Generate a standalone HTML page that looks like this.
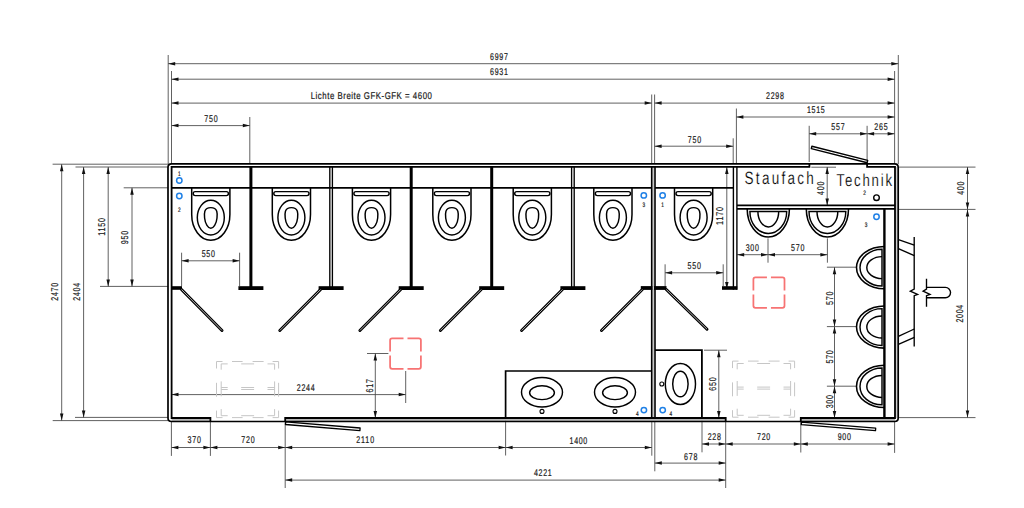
<!DOCTYPE html>
<html><head><meta charset="utf-8"><style>
html,body{margin:0;padding:0;background:#fff;width:1024px;height:508px;overflow:hidden}
svg{display:block}
text{font-family:"Liberation Sans",sans-serif;text-rendering:geometricPrecision;stroke:#1c1c1c;stroke-width:0.22px}
</style></head><body>
<svg width="1024" height="508" viewBox="0 0 1024 508">
<rect width="1024" height="508" fill="#fff"/>
<line x1="168.2" y1="55" x2="168.2" y2="164" stroke="#444" stroke-width="0.85" />
<line x1="171.5" y1="71" x2="171.5" y2="164" stroke="#444" stroke-width="0.85" />
<line x1="249.8" y1="117" x2="249.8" y2="164" stroke="#444" stroke-width="0.85" />
<line x1="651.7" y1="94.5" x2="651.7" y2="164" stroke="#444" stroke-width="0.85" />
<line x1="654.6" y1="94.5" x2="654.6" y2="164" stroke="#444" stroke-width="0.85" />
<line x1="733.2" y1="138.3" x2="733.2" y2="164" stroke="#444" stroke-width="0.85" />
<line x1="736.4" y1="108.5" x2="736.4" y2="164" stroke="#444" stroke-width="0.85" />
<line x1="809.2" y1="125.8" x2="809.2" y2="162" stroke="#444" stroke-width="0.85" />
<line x1="867.1" y1="125.8" x2="867.1" y2="160" stroke="#444" stroke-width="0.85" />
<line x1="894.6" y1="71" x2="894.6" y2="164" stroke="#444" stroke-width="0.85" />
<line x1="898.3" y1="55" x2="898.3" y2="164" stroke="#444" stroke-width="0.85" />
<line x1="168.2" y1="63.7" x2="898.3" y2="63.7" stroke="#444" stroke-width="0.85" />
<path d="M168.20,63.70 L175.20,61.95 L175.20,65.45 Z" fill="#111"/>
<path d="M898.30,63.70 L891.30,65.45 L891.30,61.95 Z" fill="#111"/>
<text transform="translate(499,59.90) scale(0.72,1)" x="0" y="0" font-size="9.8" text-anchor="middle" fill="#1c1c1c" textLength="24.72" lengthAdjust="spacing">6997</text>
<line x1="171.5" y1="79.2" x2="894.6" y2="79.2" stroke="#444" stroke-width="0.85" />
<path d="M171.50,79.20 L178.50,77.45 L178.50,80.95 Z" fill="#111"/>
<path d="M894.60,79.20 L887.60,80.95 L887.60,77.45 Z" fill="#111"/>
<text transform="translate(499,75.30) scale(0.72,1)" x="0" y="0" font-size="9.8" text-anchor="middle" fill="#1c1c1c" textLength="24.72" lengthAdjust="spacing">6931</text>
<line x1="171.5" y1="103.1" x2="651.7" y2="103.1" stroke="#444" stroke-width="0.85" />
<path d="M171.50,103.10 L178.50,101.35 L178.50,104.85 Z" fill="#111"/>
<path d="M651.70,103.10 L644.70,104.85 L644.70,101.35 Z" fill="#111"/>
<text transform="translate(371.3,99.20) scale(0.8,1)" x="0" y="0" font-size="9.8" text-anchor="middle" fill="#1c1c1c" textLength="151.50" lengthAdjust="spacing">Lichte Breite GFK-GFK = 4600</text>
<line x1="654.6" y1="103.1" x2="894.6" y2="103.1" stroke="#444" stroke-width="0.85" />
<path d="M654.60,103.10 L661.60,101.35 L661.60,104.85 Z" fill="#111"/>
<path d="M894.60,103.10 L887.60,104.85 L887.60,101.35 Z" fill="#111"/>
<text transform="translate(775,99.30) scale(0.72,1)" x="0" y="0" font-size="9.8" text-anchor="middle" fill="#1c1c1c" textLength="24.72" lengthAdjust="spacing">2298</text>
<line x1="171.5" y1="125.6" x2="249.8" y2="125.6" stroke="#444" stroke-width="0.85" />
<path d="M171.50,125.60 L178.50,123.85 L178.50,127.35 Z" fill="#111"/>
<path d="M249.80,125.60 L242.80,127.35 L242.80,123.85 Z" fill="#111"/>
<text transform="translate(210.9,121.90) scale(0.72,1)" x="0" y="0" font-size="9.8" text-anchor="middle" fill="#1c1c1c" textLength="18.54" lengthAdjust="spacing">750</text>
<line x1="736.4" y1="117.0" x2="894.6" y2="117.0" stroke="#444" stroke-width="0.85" />
<path d="M736.40,117.00 L743.40,115.25 L743.40,118.75 Z" fill="#111"/>
<path d="M894.60,117.00 L887.60,118.75 L887.60,115.25 Z" fill="#111"/>
<text transform="translate(815.8,113.30) scale(0.72,1)" x="0" y="0" font-size="9.8" text-anchor="middle" fill="#1c1c1c" textLength="24.72" lengthAdjust="spacing">1515</text>
<line x1="809.2" y1="133.8" x2="867.1" y2="133.8" stroke="#444" stroke-width="0.85" />
<path d="M809.20,133.80 L816.20,132.05 L816.20,135.55 Z" fill="#111"/>
<path d="M867.10,133.80 L860.10,135.55 L860.10,132.05 Z" fill="#111"/>
<text transform="translate(837.9,130.40) scale(0.72,1)" x="0" y="0" font-size="9.8" text-anchor="middle" fill="#1c1c1c" textLength="18.54" lengthAdjust="spacing">557</text>
<line x1="867.1" y1="133.8" x2="894.6" y2="133.8" stroke="#444" stroke-width="0.85" />
<path d="M867.10,133.80 L874.10,132.05 L874.10,135.55 Z" fill="#111"/>
<path d="M894.60,133.80 L887.60,135.55 L887.60,132.05 Z" fill="#111"/>
<text transform="translate(880.9,130.40) scale(0.72,1)" x="0" y="0" font-size="9.8" text-anchor="middle" fill="#1c1c1c" textLength="18.54" lengthAdjust="spacing">265</text>
<line x1="654.6" y1="146.2" x2="733.2" y2="146.2" stroke="#444" stroke-width="0.85" />
<path d="M654.60,146.20 L661.60,144.45 L661.60,147.95 Z" fill="#111"/>
<path d="M733.20,146.20 L726.20,147.95 L726.20,144.45 Z" fill="#111"/>
<text transform="translate(694.4,142.50) scale(0.72,1)" x="0" y="0" font-size="9.8" text-anchor="middle" fill="#1c1c1c" textLength="18.54" lengthAdjust="spacing">750</text>
<line x1="811.3" y1="167.2" x2="836" y2="167.2" stroke="#444" stroke-width="0.85" />
<line x1="52.6" y1="164.2" x2="168.2" y2="164.2" stroke="#444" stroke-width="0.85" />
<line x1="75.5" y1="167.0" x2="168.2" y2="167.0" stroke="#444" stroke-width="0.85" />
<line x1="123.7" y1="187.8" x2="168.2" y2="187.8" stroke="#444" stroke-width="0.85" />
<line x1="100" y1="286.4" x2="168.2" y2="286.4" stroke="#444" stroke-width="0.85" />
<line x1="75" y1="417.4" x2="168.2" y2="417.4" stroke="#444" stroke-width="0.85" />
<line x1="52.7" y1="420.6" x2="168.2" y2="420.6" stroke="#444" stroke-width="0.85" />
<line x1="61.7" y1="164.2" x2="61.7" y2="420.6" stroke="#444" stroke-width="0.85" />
<path d="M61.70,164.20 L63.45,171.20 L59.95,171.20 Z" fill="#111"/>
<path d="M61.70,420.60 L59.95,413.60 L63.45,413.60 Z" fill="#111"/>
<text transform="translate(54,291.8) rotate(-90) scale(0.72,1)" x="0" y="3.50" font-size="9.8" text-anchor="middle" fill="#1c1c1c" textLength="24.72" lengthAdjust="spacing">2470</text>
<line x1="83.6" y1="167.0" x2="83.6" y2="417.4" stroke="#444" stroke-width="0.85" />
<path d="M83.60,167.00 L85.35,174.00 L81.85,174.00 Z" fill="#111"/>
<path d="M83.60,417.40 L81.85,410.40 L85.35,410.40 Z" fill="#111"/>
<text transform="translate(76.8,291.8) rotate(-90) scale(0.72,1)" x="0" y="3.50" font-size="9.8" text-anchor="middle" fill="#1c1c1c" textLength="24.72" lengthAdjust="spacing">2404</text>
<line x1="108.2" y1="167.0" x2="108.2" y2="286.4" stroke="#444" stroke-width="0.85" />
<path d="M108.20,167.00 L109.95,174.00 L106.45,174.00 Z" fill="#111"/>
<path d="M108.20,286.40 L106.45,279.40 L109.95,279.40 Z" fill="#111"/>
<text transform="translate(101.4,226.9) rotate(-90) scale(0.72,1)" x="0" y="3.50" font-size="9.8" text-anchor="middle" fill="#1c1c1c" textLength="24.72" lengthAdjust="spacing">1150</text>
<line x1="132.0" y1="187.8" x2="132.0" y2="286.4" stroke="#444" stroke-width="0.85" />
<path d="M132.00,187.80 L133.75,194.80 L130.25,194.80 Z" fill="#111"/>
<path d="M132.00,286.40 L130.25,279.40 L133.75,279.40 Z" fill="#111"/>
<text transform="translate(124.7,237.5) rotate(-90) scale(0.72,1)" x="0" y="3.50" font-size="9.8" text-anchor="middle" fill="#1c1c1c" textLength="18.54" lengthAdjust="spacing">950</text>
<line x1="171.4" y1="421" x2="171.4" y2="455.9" stroke="#444" stroke-width="0.85" />
<line x1="210.4" y1="421" x2="210.4" y2="455.9" stroke="#444" stroke-width="0.85" />
<line x1="285.2" y1="421" x2="285.2" y2="488" stroke="#444" stroke-width="0.85" />
<line x1="505.6" y1="419" x2="505.6" y2="455.5" stroke="#444" stroke-width="0.85" />
<line x1="651.8" y1="421" x2="651.8" y2="455.7" stroke="#444" stroke-width="0.85" />
<line x1="654.8" y1="421" x2="654.8" y2="471.3" stroke="#444" stroke-width="0.85" />
<line x1="702.0" y1="419" x2="702.0" y2="452.3" stroke="#444" stroke-width="0.85" />
<line x1="725.7" y1="421" x2="725.7" y2="488" stroke="#444" stroke-width="0.85" />
<line x1="800.8" y1="421" x2="800.8" y2="452.5" stroke="#444" stroke-width="0.85" />
<line x1="894.6" y1="421" x2="894.6" y2="452.9" stroke="#444" stroke-width="0.85" />
<line x1="171.4" y1="447.5" x2="210.4" y2="447.5" stroke="#444" stroke-width="0.85" />
<path d="M171.40,447.50 L178.40,445.75 L178.40,449.25 Z" fill="#111"/>
<path d="M210.40,447.50 L203.40,449.25 L203.40,445.75 Z" fill="#111"/>
<text transform="translate(194.2,443.20) scale(0.72,1)" x="0" y="0" font-size="9.8" text-anchor="middle" fill="#1c1c1c" textLength="18.54" lengthAdjust="spacing">370</text>
<line x1="210.4" y1="447.5" x2="285.2" y2="447.5" stroke="#444" stroke-width="0.85" />
<path d="M210.40,447.50 L217.40,445.75 L217.40,449.25 Z" fill="#111"/>
<path d="M285.20,447.50 L278.20,449.25 L278.20,445.75 Z" fill="#111"/>
<text transform="translate(247.9,443.20) scale(0.72,1)" x="0" y="0" font-size="9.8" text-anchor="middle" fill="#1c1c1c" textLength="18.54" lengthAdjust="spacing">720</text>
<line x1="285.2" y1="447.5" x2="505.6" y2="447.5" stroke="#444" stroke-width="0.85" />
<path d="M285.20,447.50 L292.20,445.75 L292.20,449.25 Z" fill="#111"/>
<path d="M505.60,447.50 L498.60,449.25 L498.60,445.75 Z" fill="#111"/>
<text transform="translate(365.2,443.30) scale(0.72,1)" x="0" y="0" font-size="9.8" text-anchor="middle" fill="#1c1c1c" textLength="24.72" lengthAdjust="spacing">2110</text>
<line x1="505.6" y1="447.5" x2="651.8" y2="447.5" stroke="#444" stroke-width="0.85" />
<path d="M505.60,447.50 L512.60,445.75 L512.60,449.25 Z" fill="#111"/>
<path d="M651.80,447.50 L644.80,449.25 L644.80,445.75 Z" fill="#111"/>
<text transform="translate(578.4,443.50) scale(0.72,1)" x="0" y="0" font-size="9.8" text-anchor="middle" fill="#1c1c1c" textLength="24.72" lengthAdjust="spacing">1400</text>
<line x1="702.0" y1="444.0" x2="725.7" y2="444.0" stroke="#444" stroke-width="0.85" />
<path d="M702.00,444.00 L709.00,442.25 L709.00,445.75 Z" fill="#111"/>
<path d="M725.70,444.00 L718.70,445.75 L718.70,442.25 Z" fill="#111"/>
<text transform="translate(714.3,440.20) scale(0.72,1)" x="0" y="0" font-size="9.8" text-anchor="middle" fill="#1c1c1c" textLength="18.54" lengthAdjust="spacing">228</text>
<line x1="725.7" y1="444.0" x2="800.8" y2="444.0" stroke="#444" stroke-width="0.85" />
<path d="M725.70,444.00 L732.70,442.25 L732.70,445.75 Z" fill="#111"/>
<path d="M800.80,444.00 L793.80,445.75 L793.80,442.25 Z" fill="#111"/>
<text transform="translate(763.6,440.20) scale(0.72,1)" x="0" y="0" font-size="9.8" text-anchor="middle" fill="#1c1c1c" textLength="18.54" lengthAdjust="spacing">720</text>
<line x1="800.8" y1="444.0" x2="894.6" y2="444.0" stroke="#444" stroke-width="0.85" />
<path d="M800.80,444.00 L807.80,442.25 L807.80,445.75 Z" fill="#111"/>
<path d="M894.60,444.00 L887.60,445.75 L887.60,442.25 Z" fill="#111"/>
<text transform="translate(844.3,439.80) scale(0.72,1)" x="0" y="0" font-size="9.8" text-anchor="middle" fill="#1c1c1c" textLength="18.54" lengthAdjust="spacing">900</text>
<line x1="654.8" y1="463.1" x2="725.7" y2="463.1" stroke="#444" stroke-width="0.85" />
<path d="M654.80,463.10 L661.80,461.35 L661.80,464.85 Z" fill="#111"/>
<path d="M725.70,463.10 L718.70,464.85 L718.70,461.35 Z" fill="#111"/>
<text transform="translate(690.7,459.50) scale(0.72,1)" x="0" y="0" font-size="9.8" text-anchor="middle" fill="#1c1c1c" textLength="18.54" lengthAdjust="spacing">678</text>
<line x1="285.2" y1="480.1" x2="725.7" y2="480.1" stroke="#444" stroke-width="0.85" />
<path d="M285.20,480.10 L292.20,478.35 L292.20,481.85 Z" fill="#111"/>
<path d="M725.70,480.10 L718.70,481.85 L718.70,478.35 Z" fill="#111"/>
<text transform="translate(542.8,476.10) scale(0.72,1)" x="0" y="0" font-size="9.8" text-anchor="middle" fill="#1c1c1c" textLength="24.72" lengthAdjust="spacing">4221</text>
<line x1="898.3" y1="167.1" x2="975.5" y2="167.1" stroke="#444" stroke-width="0.85" />
<line x1="898.3" y1="209.4" x2="975.5" y2="209.4" stroke="#444" stroke-width="0.85" />
<line x1="898.3" y1="417.6" x2="975.5" y2="417.6" stroke="#444" stroke-width="0.85" />
<line x1="967.5" y1="167.1" x2="967.5" y2="209.4" stroke="#444" stroke-width="0.85" />
<path d="M967.50,167.10 L969.25,174.10 L965.75,174.10 Z" fill="#111"/>
<path d="M967.50,209.40 L965.75,202.40 L969.25,202.40 Z" fill="#111"/>
<text transform="translate(960,188.2) rotate(-90) scale(0.72,1)" x="0" y="3.50" font-size="9.8" text-anchor="middle" fill="#1c1c1c" textLength="18.54" lengthAdjust="spacing">400</text>
<line x1="967.5" y1="209.4" x2="967.5" y2="417.6" stroke="#444" stroke-width="0.85" />
<path d="M967.50,209.40 L969.25,216.40 L965.75,216.40 Z" fill="#111"/>
<path d="M967.50,417.60 L965.75,410.60 L969.25,410.60 Z" fill="#111"/>
<text transform="translate(959.8,313.6) rotate(-90) scale(0.72,1)" x="0" y="3.50" font-size="9.8" text-anchor="middle" fill="#1c1c1c" textLength="24.72" lengthAdjust="spacing">2004</text>
<line x1="181.6" y1="252.7" x2="181.6" y2="286" stroke="#444" stroke-width="0.85" />
<line x1="239.6" y1="252.7" x2="239.6" y2="286" stroke="#444" stroke-width="0.85" />
<line x1="181.6" y1="260.8" x2="239.6" y2="260.8" stroke="#444" stroke-width="0.85" />
<path d="M181.60,260.80 L188.60,259.05 L188.60,262.55 Z" fill="#111"/>
<path d="M239.60,260.80 L232.60,262.55 L232.60,259.05 Z" fill="#111"/>
<text transform="translate(208.3,257.00) scale(0.72,1)" x="0" y="0" font-size="9.8" text-anchor="middle" fill="#1c1c1c" textLength="18.54" lengthAdjust="spacing">550</text>
<line x1="665.1" y1="264.3" x2="665.1" y2="286" stroke="#444" stroke-width="0.85" />
<line x1="723.2" y1="264.3" x2="723.2" y2="286" stroke="#444" stroke-width="0.85" />
<line x1="665.1" y1="272.8" x2="723.2" y2="272.8" stroke="#444" stroke-width="0.85" />
<path d="M665.10,272.80 L672.10,271.05 L672.10,274.55 Z" fill="#111"/>
<path d="M723.20,272.80 L716.20,274.55 L716.20,271.05 Z" fill="#111"/>
<text transform="translate(694.2,269.10) scale(0.72,1)" x="0" y="0" font-size="9.8" text-anchor="middle" fill="#1c1c1c" textLength="18.54" lengthAdjust="spacing">550</text>
<line x1="768.0" y1="238.4" x2="768.0" y2="262.7" stroke="#444" stroke-width="0.85" />
<line x1="827.4" y1="238.4" x2="827.4" y2="262.7" stroke="#444" stroke-width="0.85" />
<line x1="737.2" y1="254.7" x2="768.0" y2="254.7" stroke="#444" stroke-width="0.85" />
<path d="M737.20,254.70 L744.20,252.95 L744.20,256.45 Z" fill="#111"/>
<path d="M768.00,254.70 L761.00,256.45 L761.00,252.95 Z" fill="#111"/>
<text transform="translate(752.3,250.80) scale(0.72,1)" x="0" y="0" font-size="9.8" text-anchor="middle" fill="#1c1c1c" textLength="18.54" lengthAdjust="spacing">300</text>
<line x1="768.0" y1="254.7" x2="827.4" y2="254.7" stroke="#444" stroke-width="0.85" />
<path d="M768.00,254.70 L775.00,252.95 L775.00,256.45 Z" fill="#111"/>
<path d="M827.40,254.70 L820.40,256.45 L820.40,252.95 Z" fill="#111"/>
<text transform="translate(797.7,250.80) scale(0.72,1)" x="0" y="0" font-size="9.8" text-anchor="middle" fill="#1c1c1c" textLength="18.54" lengthAdjust="spacing">570</text>
<line x1="827.2" y1="167.0" x2="827.2" y2="205.4" stroke="#444" stroke-width="0.85" />
<path d="M827.20,167.00 L828.95,174.00 L825.45,174.00 Z" fill="#111"/>
<path d="M827.20,205.40 L825.45,198.40 L828.95,198.40 Z" fill="#111"/>
<text transform="translate(820.3,188.3) rotate(-90) scale(0.72,1)" x="0" y="3.50" font-size="9.8" text-anchor="middle" fill="#1c1c1c" textLength="18.54" lengthAdjust="spacing">400</text>
<line x1="726.8" y1="167.0" x2="726.8" y2="289.0" stroke="#444" stroke-width="0.85" />
<path d="M726.80,167.00 L728.55,174.00 L725.05,174.00 Z" fill="#111"/>
<path d="M726.80,289.00 L725.05,282.00 L728.55,282.00 Z" fill="#111"/>
<text transform="translate(719.7,216.0) rotate(-90) scale(0.72,1)" x="0" y="3.50" font-size="9.8" text-anchor="middle" fill="#1c1c1c" textLength="24.72" lengthAdjust="spacing">1170</text>
<line x1="405.7" y1="371" x2="405.7" y2="403" stroke="#444" stroke-width="0.85" />
<line x1="171.5" y1="394.6" x2="405.7" y2="394.6" stroke="#444" stroke-width="0.85" />
<path d="M171.50,394.60 L178.50,392.85 L178.50,396.35 Z" fill="#111"/>
<path d="M405.70,394.60 L398.70,396.35 L398.70,392.85 Z" fill="#111"/>
<text transform="translate(305.7,391.10) scale(0.72,1)" x="0" y="0" font-size="9.8" text-anchor="middle" fill="#1c1c1c" textLength="24.72" lengthAdjust="spacing">2244</text>
<line x1="367" y1="353.5" x2="388.4" y2="353.5" stroke="#444" stroke-width="0.85" />
<line x1="375.3" y1="353.5" x2="375.3" y2="418.0" stroke="#444" stroke-width="0.85" />
<path d="M375.30,353.50 L377.05,360.50 L373.55,360.50 Z" fill="#111"/>
<path d="M375.30,418.00 L373.55,411.00 L377.05,411.00 Z" fill="#111"/>
<text transform="translate(369.0,385.8) rotate(-90) scale(0.72,1)" x="0" y="3.50" font-size="9.8" text-anchor="middle" fill="#1c1c1c" textLength="18.54" lengthAdjust="spacing">617</text>
<line x1="704" y1="350.2" x2="727" y2="350.2" stroke="#444" stroke-width="0.85" />
<line x1="718.8" y1="350.2" x2="718.8" y2="418.0" stroke="#444" stroke-width="0.85" />
<path d="M718.80,350.20 L720.55,357.20 L717.05,357.20 Z" fill="#111"/>
<path d="M718.80,418.00 L717.05,411.00 L720.55,411.00 Z" fill="#111"/>
<text transform="translate(712.4,384.0) rotate(-90) scale(0.72,1)" x="0" y="3.50" font-size="9.8" text-anchor="middle" fill="#1c1c1c" textLength="18.54" lengthAdjust="spacing">650</text>
<line x1="826.9" y1="267.2" x2="857" y2="267.2" stroke="#444" stroke-width="0.85" />
<line x1="826.9" y1="326.6" x2="857" y2="326.6" stroke="#444" stroke-width="0.85" />
<line x1="826.9" y1="386.2" x2="857" y2="386.2" stroke="#444" stroke-width="0.85" />
<line x1="834.5" y1="267.2" x2="834.5" y2="326.6" stroke="#444" stroke-width="0.85" />
<path d="M834.50,267.20 L836.25,274.20 L832.75,274.20 Z" fill="#111"/>
<path d="M834.50,326.60 L832.75,319.60 L836.25,319.60 Z" fill="#111"/>
<text transform="translate(829.3,298.3) rotate(-90) scale(0.72,1)" x="0" y="3.50" font-size="9.8" text-anchor="middle" fill="#1c1c1c" textLength="18.54" lengthAdjust="spacing">570</text>
<line x1="834.5" y1="326.6" x2="834.5" y2="386.2" stroke="#444" stroke-width="0.85" />
<path d="M834.50,326.60 L836.25,333.60 L832.75,333.60 Z" fill="#111"/>
<path d="M834.50,386.20 L832.75,379.20 L836.25,379.20 Z" fill="#111"/>
<text transform="translate(829.3,356.9) rotate(-90) scale(0.72,1)" x="0" y="3.50" font-size="9.8" text-anchor="middle" fill="#1c1c1c" textLength="18.54" lengthAdjust="spacing">570</text>
<line x1="834.5" y1="386.2" x2="834.5" y2="418.0" stroke="#444" stroke-width="0.85" />
<path d="M834.50,386.20 L836.25,393.20 L832.75,393.20 Z" fill="#111"/>
<path d="M834.50,418.00 L832.75,411.00 L836.25,411.00 Z" fill="#111"/>
<text transform="translate(829.3,401.7) rotate(-90) scale(0.72,1)" x="0" y="3.50" font-size="9.8" text-anchor="middle" fill="#1c1c1c" textLength="18.54" lengthAdjust="spacing">300</text>
<rect x="171.6" y="418.5" width="38.8" height="2.4" fill="#b8b8b8"/>
<rect x="285.2" y="418.5" width="440.5" height="2.4" fill="#b8b8b8"/>
<rect x="800.8" y="418.5" width="94.2" height="2.4" fill="#b8b8b8"/>
<rect x="895.6" y="167" width="2" height="251" fill="#d0d0d0"/>
<rect x="652.4" y="167" width="1.9" height="251" fill="#c8c8c8"/>
<path d="M171.5,163.9 H894.7 Q898.2,163.9 898.2,167.4 V418 Q898.2,421.5 894.7,421.5 H171.5 Q168,421.5 168,418 V167.4 Q168,163.9 171.5,163.9 Z" fill="none" stroke="#000" stroke-width="1.7"/>
<path d="M809.4,163.9 V166.9 H171.6 V418 H210.4 V421.5" fill="none" stroke="#000" stroke-width="1.8"/>
<path d="M867.1,163.9 V166.9 H895 V418 H800.8 V421.5" fill="none" stroke="#000" stroke-width="1.8"/>
<path d="M285.2,421.5 V418 H725.7 V421.5" fill="none" stroke="#000" stroke-width="1.8"/>
<line x1="171.6" y1="187.9" x2="651.7" y2="187.9" stroke="#000" stroke-width="1.6" />
<line x1="655.0" y1="187.9" x2="733.4" y2="187.9" stroke="#000" stroke-width="1.6" />
<line x1="250.9" y1="167" x2="250.9" y2="288" stroke="#000" stroke-width="3.0" />
<rect x="238.4" y="286.2" width="25" height="3.8" fill="#000"/>
<line x1="329.8" y1="167" x2="329.8" y2="288" stroke="#000" stroke-width="1.35" />
<line x1="332.40000000000003" y1="167" x2="332.40000000000003" y2="288" stroke="#000" stroke-width="1.35" />
<rect x="318.6" y="286.2" width="25" height="3.8" fill="#000"/>
<line x1="411.2" y1="167" x2="411.2" y2="288" stroke="#000" stroke-width="3.0" />
<rect x="398.7" y="286.2" width="25" height="3.8" fill="#000"/>
<line x1="491.7" y1="167" x2="491.7" y2="288" stroke="#000" stroke-width="3.0" />
<rect x="479.2" y="286.2" width="25" height="3.8" fill="#000"/>
<line x1="571.6" y1="167" x2="571.6" y2="288" stroke="#000" stroke-width="1.35" />
<line x1="574.1999999999999" y1="167" x2="574.1999999999999" y2="288" stroke="#000" stroke-width="1.35" />
<rect x="560.4" y="286.2" width="25" height="3.8" fill="#000"/>
<line x1="651.7" y1="167" x2="651.7" y2="418" stroke="#000" stroke-width="1.6" />
<line x1="655.0" y1="167" x2="655.0" y2="418" stroke="#000" stroke-width="1.6" />
<rect x="640.8" y="286.1" width="25.7" height="3.8" fill="#000"/>
<rect x="652.7" y="286.1" width="1.2" height="3.8" fill="#eee"/>
<rect x="171.5" y="286.2" width="10.5" height="3.6" fill="#000"/>
<line x1="733.4" y1="167" x2="733.4" y2="289.7" stroke="#000" stroke-width="1.4" />
<line x1="736.9" y1="167" x2="736.9" y2="289.7" stroke="#000" stroke-width="1.4" />
<rect x="722" y="286.2" width="15.2" height="3.6" fill="#000"/>
<line x1="181.5" y1="289.5" x2="222" y2="330.5" stroke="#000" stroke-width="3.0" stroke-linecap="round"/>
<line x1="181.5" y1="289.5" x2="222" y2="330.5" stroke="#fff" stroke-width="0.70"/>
<line x1="320.6" y1="289.5" x2="279.8" y2="330.5" stroke="#000" stroke-width="3.0" stroke-linecap="round"/>
<line x1="320.6" y1="289.5" x2="279.8" y2="330.5" stroke="#fff" stroke-width="0.70"/>
<line x1="400.7" y1="289.5" x2="359.9" y2="330.5" stroke="#000" stroke-width="3.0" stroke-linecap="round"/>
<line x1="400.7" y1="289.5" x2="359.9" y2="330.5" stroke="#fff" stroke-width="0.70"/>
<line x1="481.2" y1="289.5" x2="440.4" y2="330.5" stroke="#000" stroke-width="3.0" stroke-linecap="round"/>
<line x1="481.2" y1="289.5" x2="440.4" y2="330.5" stroke="#fff" stroke-width="0.70"/>
<line x1="562.4" y1="289.5" x2="521.6" y2="330.5" stroke="#000" stroke-width="3.0" stroke-linecap="round"/>
<line x1="562.4" y1="289.5" x2="521.6" y2="330.5" stroke="#fff" stroke-width="0.70"/>
<line x1="642.3" y1="289.5" x2="601.5" y2="330.5" stroke="#000" stroke-width="3.0" stroke-linecap="round"/>
<line x1="642.3" y1="289.5" x2="601.5" y2="330.5" stroke="#fff" stroke-width="0.70"/>
<line x1="666.3" y1="289.5" x2="707" y2="329.2" stroke="#000" stroke-width="3.0" stroke-linecap="round"/>
<line x1="666.3" y1="289.5" x2="707" y2="329.2" stroke="#fff" stroke-width="0.70"/>
<path d="M285.49,424.50 L359.89,430.60 L360.11,428.00 L285.71,421.90 Z" fill="#fff" stroke="#000" stroke-width="1.3" stroke-linejoin="round"/>
<path d="M801.30,424.70 L875.50,430.70 L875.70,428.10 L801.50,422.10 Z" fill="#fff" stroke="#000" stroke-width="1.3" stroke-linejoin="round"/>
<path d="M811.30,148.56 L867.10,162.76 L867.70,160.44 L811.90,146.24 Z" fill="#fff" stroke="#000" stroke-width="1.4" stroke-linejoin="round"/>
<path d="M191.70,188 V214.5 A19.1,25.8 0 0 0 229.90,214.5 V188" fill="none" stroke="#000" stroke-width="1.5"/>
<rect x="193.20" y="191.6" width="35.2" height="4" rx="2" fill="none" stroke="#000" stroke-width="1.45"/>
<ellipse cx="210.8" cy="217.6" rx="13.5" ry="17.3" fill="none" stroke="#000" stroke-width="1.45"/>
<path d="M210.8,207.6 C218.00,207.6 217.40,214 217.00,218 C216.40,224 213.40,228.3 210.8,228.3 C208.20,228.3 205.20,224 204.60,218 C204.20,214 203.60,207.6 210.8,207.6 Z" fill="none" stroke="#000" stroke-width="1.45"/>
<path d="M272.30,188 V214.5 A19.1,25.8 0 0 0 310.50,214.5 V188" fill="none" stroke="#000" stroke-width="1.5"/>
<rect x="273.80" y="191.6" width="35.2" height="4" rx="2" fill="none" stroke="#000" stroke-width="1.45"/>
<ellipse cx="291.4" cy="217.6" rx="13.5" ry="17.3" fill="none" stroke="#000" stroke-width="1.45"/>
<path d="M291.4,207.6 C298.60,207.6 298.00,214 297.60,218 C297.00,224 294.00,228.3 291.4,228.3 C288.80,228.3 285.80,224 285.20,218 C284.80,214 284.20,207.6 291.4,207.6 Z" fill="none" stroke="#000" stroke-width="1.45"/>
<path d="M352.40,188 V214.5 A19.1,25.8 0 0 0 390.60,214.5 V188" fill="none" stroke="#000" stroke-width="1.5"/>
<rect x="353.90" y="191.6" width="35.2" height="4" rx="2" fill="none" stroke="#000" stroke-width="1.45"/>
<ellipse cx="371.5" cy="217.6" rx="13.5" ry="17.3" fill="none" stroke="#000" stroke-width="1.45"/>
<path d="M371.5,207.6 C378.70,207.6 378.10,214 377.70,218 C377.10,224 374.10,228.3 371.5,228.3 C368.90,228.3 365.90,224 365.30,218 C364.90,214 364.30,207.6 371.5,207.6 Z" fill="none" stroke="#000" stroke-width="1.45"/>
<path d="M432.80,188 V214.5 A19.1,25.8 0 0 0 471.00,214.5 V188" fill="none" stroke="#000" stroke-width="1.5"/>
<rect x="434.30" y="191.6" width="35.2" height="4" rx="2" fill="none" stroke="#000" stroke-width="1.45"/>
<ellipse cx="451.9" cy="217.6" rx="13.5" ry="17.3" fill="none" stroke="#000" stroke-width="1.45"/>
<path d="M451.9,207.6 C459.10,207.6 458.50,214 458.10,218 C457.50,224 454.50,228.3 451.9,228.3 C449.30,228.3 446.30,224 445.70,218 C445.30,214 444.70,207.6 451.9,207.6 Z" fill="none" stroke="#000" stroke-width="1.45"/>
<path d="M513.20,188 V214.5 A19.1,25.8 0 0 0 551.40,214.5 V188" fill="none" stroke="#000" stroke-width="1.5"/>
<rect x="514.70" y="191.6" width="35.2" height="4" rx="2" fill="none" stroke="#000" stroke-width="1.45"/>
<ellipse cx="532.3" cy="217.6" rx="13.5" ry="17.3" fill="none" stroke="#000" stroke-width="1.45"/>
<path d="M532.3,207.6 C539.50,207.6 538.90,214 538.50,218 C537.90,224 534.90,228.3 532.3,228.3 C529.70,228.3 526.70,224 526.10,218 C525.70,214 525.10,207.6 532.3,207.6 Z" fill="none" stroke="#000" stroke-width="1.45"/>
<path d="M593.80,188 V214.5 A19.1,25.8 0 0 0 632.00,214.5 V188" fill="none" stroke="#000" stroke-width="1.5"/>
<rect x="595.30" y="191.6" width="35.2" height="4" rx="2" fill="none" stroke="#000" stroke-width="1.45"/>
<ellipse cx="612.9" cy="217.6" rx="13.5" ry="17.3" fill="none" stroke="#000" stroke-width="1.45"/>
<path d="M612.9,207.6 C620.10,207.6 619.50,214 619.10,218 C618.50,224 615.50,228.3 612.9,228.3 C610.30,228.3 607.30,224 606.70,218 C606.30,214 605.70,207.6 612.9,207.6 Z" fill="none" stroke="#000" stroke-width="1.45"/>
<path d="M674.50,188 V214.5 A19.1,25.8 0 0 0 712.70,214.5 V188" fill="none" stroke="#000" stroke-width="1.5"/>
<rect x="676.00" y="191.6" width="35.2" height="4" rx="2" fill="none" stroke="#000" stroke-width="1.45"/>
<ellipse cx="693.6" cy="217.6" rx="13.5" ry="17.3" fill="none" stroke="#000" stroke-width="1.45"/>
<path d="M693.6,207.6 C700.80,207.6 700.20,214 699.80,218 C699.20,224 696.20,228.3 693.6,228.3 C691.00,228.3 688.00,224 687.40,218 C687.00,214 686.40,207.6 693.6,207.6 Z" fill="none" stroke="#000" stroke-width="1.45"/>
<path d="M505.6,418 V371 H651.7" fill="none" stroke="#000" stroke-width="1.7"/>
<ellipse cx="542.0" cy="392.2" rx="20.5" ry="14.7" fill="none" stroke="#000" stroke-width="1.45"/>
<ellipse cx="542.0" cy="392.7" rx="12.4" ry="6.9" fill="none" stroke="#000" stroke-width="1.45"/>
<circle cx="542.0" cy="411.4" r="2" fill="none" stroke="#000" stroke-width="1.1"/>
<ellipse cx="615.0" cy="392.2" rx="20.5" ry="14.7" fill="none" stroke="#000" stroke-width="1.45"/>
<ellipse cx="615.0" cy="392.7" rx="12.4" ry="6.9" fill="none" stroke="#000" stroke-width="1.45"/>
<circle cx="615.0" cy="411.4" r="2" fill="none" stroke="#000" stroke-width="1.1"/>
<path d="M655,350.2 H701.9 V418" fill="none" stroke="#000" stroke-width="1.8"/>
<ellipse cx="680.4" cy="384" rx="15.1" ry="20.5" fill="none" stroke="#000" stroke-width="1.45"/>
<ellipse cx="680.4" cy="384" rx="7.7" ry="12.8" fill="none" stroke="#000" stroke-width="1.45"/>
<circle cx="661.8" cy="384" r="2" fill="none" stroke="#000" stroke-width="1.1"/>
<line x1="737" y1="205.4" x2="895" y2="205.4" stroke="#000" stroke-width="1.6" />
<line x1="737" y1="208.9" x2="895" y2="208.9" stroke="#000" stroke-width="1.6" />
<line x1="884.4" y1="208.6" x2="884.4" y2="418" stroke="#000" stroke-width="2.4" />
<path d="M747.20,209 A21.1,28 0 0 0 789.40,209" fill="none" stroke="#000" stroke-width="1.55"/>
<path d="M749.90,211.4 A18.4,22 0 0 0 786.70,211.4 Z" fill="none" stroke="#000" stroke-width="1.45"/>
<path d="M757.90,211.4 A10.4,15.5 0 0 0 778.70,211.4" fill="none" stroke="#000" stroke-width="1.45"/>
<path d="M806.30,209 A21.1,28 0 0 0 848.50,209" fill="none" stroke="#000" stroke-width="1.55"/>
<path d="M809.00,211.4 A18.4,22 0 0 0 845.80,211.4 Z" fill="none" stroke="#000" stroke-width="1.45"/>
<path d="M817.00,211.4 A10.4,15.5 0 0 0 837.80,211.4" fill="none" stroke="#000" stroke-width="1.45"/>
<path d="M884.5,246.50 A28,21.1 0 0 0 884.5,288.70" fill="none" stroke="#000" stroke-width="1.55"/>
<path d="M882,249.20 A22,18.4 0 0 0 882,286.00 Z" fill="none" stroke="#000" stroke-width="1.45"/>
<path d="M882,256.60 A15.2,11 0 0 0 882,278.60" fill="none" stroke="#000" stroke-width="1.45"/>
<path d="M884.5,305.90 A28,21.1 0 0 0 884.5,348.10" fill="none" stroke="#000" stroke-width="1.55"/>
<path d="M882,308.60 A22,18.4 0 0 0 882,345.40 Z" fill="none" stroke="#000" stroke-width="1.45"/>
<path d="M882,316.00 A15.2,11 0 0 0 882,338.00" fill="none" stroke="#000" stroke-width="1.45"/>
<path d="M884.5,365.30 A28,21.1 0 0 0 884.5,407.50" fill="none" stroke="#000" stroke-width="1.55"/>
<path d="M882,368.00 A22,18.4 0 0 0 882,404.80 Z" fill="none" stroke="#000" stroke-width="1.45"/>
<path d="M882,375.40 A15.2,11 0 0 0 882,397.40" fill="none" stroke="#000" stroke-width="1.45"/>
<text transform="translate(744.6,184.3) scale(0.76,1)" x="0" y="0" font-size="17.8" fill="#000" style="stroke:#fff;stroke-width:0.2px" textLength="91.0" lengthAdjust="spacing">Staufach</text>
<text transform="translate(836.6,185.6) scale(0.76,1)" x="0" y="0" font-size="17.4" fill="#000" style="stroke:#fff;stroke-width:0.2px" textLength="73.0" lengthAdjust="spacing">Technik</text>
<path d="M914.2,237 V289.1 L910.3,291.2 L917.6,294.5 L914.2,295.7 V346.5" fill="none" stroke="#000" stroke-width="1.35" stroke-linejoin="miter"/>
<line x1="898.4" y1="239.6" x2="914.3" y2="245.1" stroke="#000" stroke-width="1.3" />
<line x1="898.4" y1="248.6" x2="914.3" y2="255.7" stroke="#000" stroke-width="1.3" />
<line x1="898.4" y1="336.3" x2="914.3" y2="329" stroke="#000" stroke-width="1.3" />
<line x1="898.4" y1="344.3" x2="914.3" y2="337.4" stroke="#000" stroke-width="1.3" />
<path d="M926.5,278.8 V289.1 L923.1,291.2 L930,294.5 L926.5,295.7 V306.7" fill="none" stroke="#000" stroke-width="1.35"/>
<path d="M926.5,287.4 H945.4 A5.15,5.15 0 0 1 945.4,297.7 H926.5" fill="none" stroke="#000" stroke-width="1.4"/>
<path d="M403.5,338.3 H392.1 Q390.1,338.3 390.1,340.3 V351.55" fill="none" stroke="#f77373" stroke-width="1.75"/>
<path d="M407.5,338.3 H418.9 Q420.9,338.3 420.9,340.3 V351.55" fill="none" stroke="#f77373" stroke-width="1.75"/>
<path d="M403.5,368.8 H392.1 Q390.1,368.8 390.1,366.8 V355.55" fill="none" stroke="#f77373" stroke-width="1.75"/>
<path d="M407.5,368.8 H418.9 Q420.9,368.8 420.9,366.8 V355.55" fill="none" stroke="#f77373" stroke-width="1.75"/>
<path d="M766.95,277.4 H755.4 Q753.4,277.4 753.4,279.4 V290.6" fill="none" stroke="#f77373" stroke-width="1.75"/>
<path d="M770.95,277.4 H782.5 Q784.5,277.4 784.5,279.4 V290.6" fill="none" stroke="#f77373" stroke-width="1.75"/>
<path d="M766.95,307.8 H755.4 Q753.4,307.8 753.4,305.8 V294.6" fill="none" stroke="#f77373" stroke-width="1.75"/>
<path d="M770.95,307.8 H782.5 Q784.5,307.8 784.5,305.8 V294.6" fill="none" stroke="#f77373" stroke-width="1.75"/>
<path d="M222.5,361.5 H216.5 V368.5  M272.6,361.5 H278.6 V368.5  M222.5,417.6 H216.5 V410.6  M272.6,417.6 H278.6 V410.6 M232.0,361.5 H242.6 M232.0,417.6 H242.6 M252.6,361.5 H263.6 M252.6,417.6 H263.6 M216.5,382.8 V396.7 M278.6,382.8 V396.7 M227.7,363.9 H221.2 V369.7  M267.5,363.9 H274.6 V369.7  M227.7,415.70000000000005 H221.2 V409.1  M267.5,415.70000000000005 H274.6 V409.1 M241.2,363.9 H254.1 M241.2,415.70000000000005 H254.1 M221.2,381.4 V396.29999999999995 M274.6,381.4 V396.29999999999995 M221.2,387.5 H227.7 M241.2,387.5 H254.1 M267.5,387.5 H274.6 M221.2,389.5 H227.7 M241.2,389.5 H254.1 M267.5,389.5 H274.6" stroke="#c6c6c6" stroke-width="1" fill="none"/>
<path d="M738.5,361.1 H732.5 V368.1  M788.6,361.1 H794.6 V368.1  M738.5,417.20000000000005 H732.5 V410.20000000000005  M788.6,417.20000000000005 H794.6 V410.20000000000005 M748.0,361.1 H758.6 M748.0,417.20000000000005 H758.6 M768.6,361.1 H779.6 M768.6,417.20000000000005 H779.6 M732.5,382.40000000000003 V396.3 M794.6,382.40000000000003 V396.3 M743.7,363.5 H737.2 V369.3  M783.5,363.5 H790.6 V369.3  M743.7,415.30000000000007 H737.2 V408.70000000000005  M783.5,415.30000000000007 H790.6 V408.70000000000005 M757.2,363.5 H770.1 M757.2,415.30000000000007 H770.1 M737.2,381.0 V395.9 M790.6,381.0 V395.9 M737.2,387.1 H743.7 M757.2,387.1 H770.1 M783.5,387.1 H790.6 M737.2,389.1 H743.7 M757.2,389.1 H770.1 M783.5,389.1 H790.6" stroke="#c6c6c6" stroke-width="1" fill="none"/>
<circle cx="179.3" cy="180.5" r="2.7" fill="none" stroke="#1f80e6" stroke-width="1.5"/>
<circle cx="179.3" cy="196.0" r="2.7" fill="none" stroke="#1f80e6" stroke-width="1.5"/>
<circle cx="643.8" cy="195.4" r="2.7" fill="none" stroke="#1f80e6" stroke-width="1.5"/>
<circle cx="662.6" cy="195.4" r="2.7" fill="none" stroke="#1f80e6" stroke-width="1.5"/>
<circle cx="643.9" cy="410.1" r="2.7" fill="none" stroke="#1f80e6" stroke-width="1.5"/>
<circle cx="662.7" cy="410.1" r="2.7" fill="none" stroke="#1f80e6" stroke-width="1.5"/>
<circle cx="876.5" cy="216.8" r="2.7" fill="none" stroke="#1f80e6" stroke-width="1.5"/>
<circle cx="876.5" cy="197.7" r="2.8" fill="none" stroke="#000" stroke-width="1.4"/>
<text transform="translate(179.4,175.50) scale(0.72,1)" x="0" y="0" font-size="6.6" text-anchor="middle" fill="#1c1c1c">1</text>
<text transform="translate(179.4,211.50) scale(0.72,1)" x="0" y="0" font-size="6.6" text-anchor="middle" fill="#1c1c1c">2</text>
<text transform="translate(643.8,207.00) scale(0.72,1)" x="0" y="0" font-size="6.6" text-anchor="middle" fill="#1c1c1c">3</text>
<text transform="translate(662.6,207.00) scale(0.72,1)" x="0" y="0" font-size="6.6" text-anchor="middle" fill="#1c1c1c">1</text>
<text transform="translate(637.2,415.90) scale(0.72,1)" x="0" y="0" font-size="6.6" text-anchor="middle" fill="#1c1c1c">4</text>
<text transform="translate(670.8,415.90) scale(0.72,1)" x="0" y="0" font-size="6.6" text-anchor="middle" fill="#1c1c1c">4</text>
<text transform="translate(866.0,226.90) scale(0.72,1)" x="0" y="0" font-size="6.6" text-anchor="middle" fill="#1c1c1c">3</text>
<text transform="translate(864.6,194.50) scale(0.72,1)" x="0" y="0" font-size="6.6" text-anchor="middle" fill="#1c1c1c">2</text>
</svg></body></html>
